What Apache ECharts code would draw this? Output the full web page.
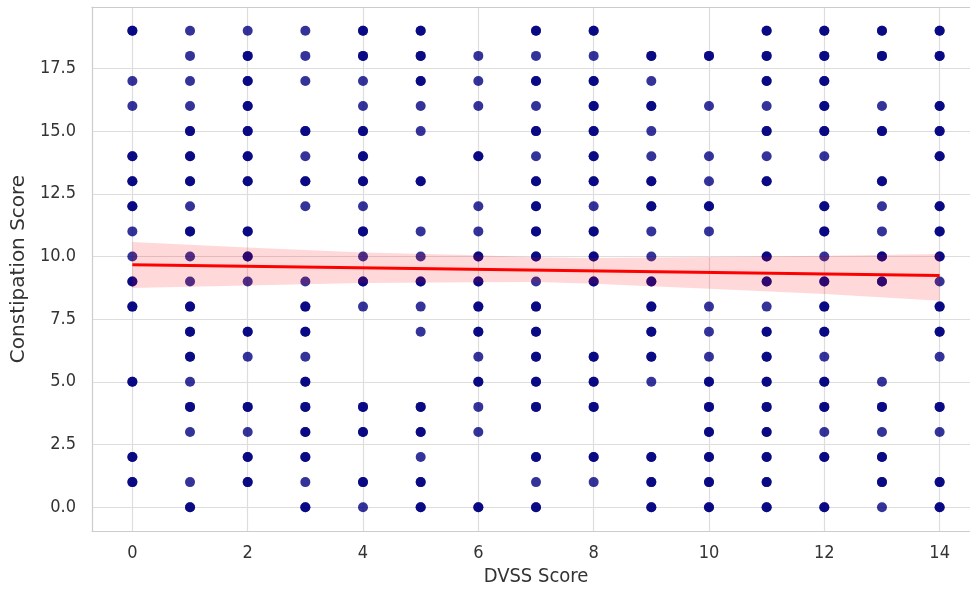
<!DOCTYPE html>
<html>
<head>
<meta charset="utf-8">
<script src="https://cdn.jsdelivr.net/npm/echarts@6/dist/echarts.min.js"></script>
<style>
  html, body { margin: 0; padding: 0; background: #fff; }
  #main { width: 970px; height: 590px; }
</style>
</head>
<body>
<div id="main"></div>
<script>
// DVSS score on x, constipation score on y
const dvssScores = [0, 1, 2, 3, 4, 5, 6, 7, 8, 9, 10, 11, 12, 13, 14];

// constipation scores that look like a single point (lighter dots)
const singleScores = [
  [17, 16, 11, 10],
  [19, 18, 17, 16, 12, 10, 9, 5, 3, 1],
  [19, 9, 6, 3],
  [19, 18, 17, 14, 12, 9, 6, 1],
  [17, 16, 12, 10, 8, 0],
  [16, 15, 11, 10, 8, 7, 2],
  [18, 17, 16, 12, 11, 6, 4, 3],
  [18, 16, 14, 9, 1],
  [18, 12, 1],
  [17, 15, 14, 11, 10, 5],
  [16, 14, 13, 11, 8, 7, 6],
  [16, 14, 8],
  [14, 10, 6, 3],
  [16, 12, 11, 5, 3, 0],
  [9, 6, 3]
];

// constipation scores with overlapping points (darker dots)
const repeatedScores = [
  [19, 14, 13, 12, 9, 8, 5, 2, 1],
  [15, 14, 13, 11, 8, 7, 6, 4, 0],
  [18, 17, 16, 15, 14, 13, 11, 10, 7, 4, 2, 1],
  [15, 13, 8, 7, 5, 4, 3, 2, 0],
  [19, 18, 15, 14, 13, 11, 9, 4, 3, 1],
  [19, 18, 17, 13, 9, 4, 3, 1, 0],
  [14, 10, 9, 8, 7, 5, 0],
  [19, 17, 15, 13, 12, 11, 10, 8, 7, 6, 5, 4, 2, 0],
  [19, 17, 16, 15, 14, 13, 11, 10, 9, 6, 5, 4, 2],
  [18, 16, 13, 12, 9, 8, 7, 6, 2, 1, 0],
  [18, 12, 5, 4, 3, 2, 1, 0],
  [19, 18, 17, 15, 13, 10, 9, 7, 6, 5, 4, 3, 2, 1, 0],
  [19, 18, 17, 16, 15, 12, 11, 9, 8, 7, 5, 4, 2, 0],
  [19, 18, 15, 13, 10, 9, 4, 2, 1],
  [19, 18, 16, 15, 14, 12, 11, 10, 8, 7, 4, 1, 0]
];

// regression line and confidence band
const fitX = [0, 14];
const fitY = [9.67, 9.24];
const bandX = [0, 2, 4, 6, 7, 8, 10, 12, 14];
const bandUpper = [10.58, 10.36, 10.16, 10.05, 9.97, 9.94, 9.98, 10.03, 10.10];
const bandLower = [8.74, 8.84, 8.94, 8.97, 8.98, 8.91, 8.71, 8.50, 8.23];

const yTicks = [0, 2.5, 5, 7.5, 10, 12.5, 15, 17.5];
const xTicks = [0, 2, 4, 6, 8, 10, 12, 14];

const points = [];
dvssScores.forEach((x, i) => {
  singleScores[i].forEach(y => points.push([x, y]));
  repeatedScores[i].forEach(y => { points.push([x, y]); points.push([x, y]); });
});

const bandData = bandX.map((x, i) => [x, bandLower[i], bandUpper[i]]);

const chart = echarts.init(document.getElementById('main'), null, { renderer: 'canvas' });

const tickFont = { fontFamily: 'DejaVu Sans Condensed', fontSize: 18, color: '#333' };
const spine = { show: true, onZero: false, lineStyle: { color: '#cccccc', width: 1.2 } };

const option = {
  animation: false,
  grid: {
    left: 92, top: 7, width: 888, height: 524,
    outerBoundsMode: 'none', containLabel: false
  },
  xAxis: [{
    type: 'value', min: -0.7, max: 14.7,
    name: 'DVSS Score', nameLocation: 'middle', nameGap: 36,
    nameTextStyle: { fontFamily: 'DejaVu Sans Condensed', fontSize: 20, color: '#333' },
    axisLine: spine,
    axisTick: { show: false, customValues: xTicks },
    axisLabel: Object.assign({
      margin: 13,
      customValues: xTicks,
      formatter: v => String(Math.round(v))
    }, tickFont),
    splitLine: { show: true, lineStyle: { color: '#dddddd', width: 1.2 } }
  }, {
    // top spine only
    type: 'value', position: 'top', min: -0.7, max: 14.7,
    axisLine: spine, axisTick: { show: false }, axisLabel: { show: false },
    splitLine: { show: false }
  }],
  yAxis: {
    type: 'value', min: -0.95, max: 19.95,
    name: 'Constipation Score', nameLocation: 'middle', nameGap: 60,
    nameTextStyle: { fontFamily: 'DejaVu Sans', fontSize: 20, color: '#333' },
    axisLine: spine,
    axisTick: { show: false, customValues: yTicks },
    axisLabel: Object.assign({
      margin: 16,
      customValues: yTicks,
      formatter: v => v.toFixed(1)
    }, tickFont),
    splitLine: { show: true, lineStyle: { color: '#dddddd', width: 1.2 } }
  },
  series: [
    {
      type: 'scatter',
      data: points,
      symbolSize: 10,
      itemStyle: { color: '#000080', opacity: 0.8 },
      z: 2
    },
    {
      type: 'custom',
      data: bandData,
      z: 3,
      renderItem: function (params, api) {
        if (params.dataIndex !== 0) return;
        const top = bandData.map(d => api.coord([d[0], d[2]]));
        const bottom = bandData.map(d => api.coord([d[0], d[1]])).reverse();
        return {
          type: 'polygon',
          shape: { points: top.concat(bottom) },
          style: { fill: 'rgba(255, 0, 0, 0.15)' }
        };
      }
    },
    {
      type: 'line',
      data: fitX.map((x, i) => [x, fitY[i]]),
      symbol: 'none',
      lineStyle: { color: '#ff0000', width: 3 },
      z: 4
    }
  ]
};

chart.setOption(option);
</script>
</body>
</html>
